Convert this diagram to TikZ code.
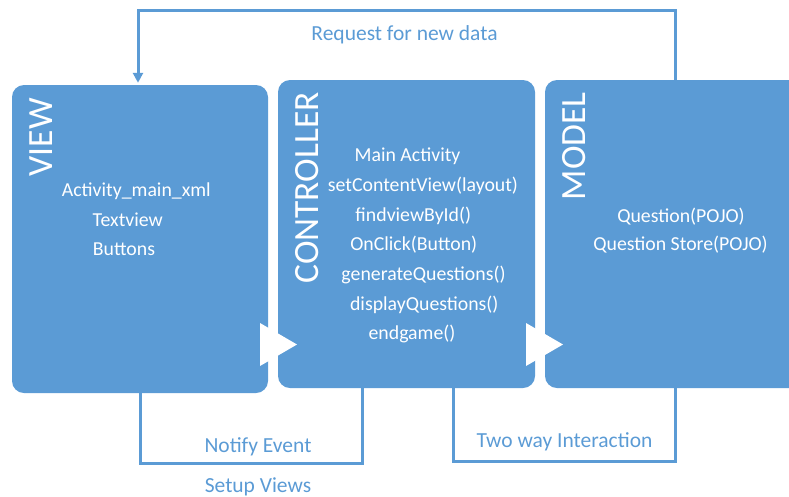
\documentclass[tikz,border=0pt]{standalone}
\usepackage{fontspec}
\setmainfont{Carlito}
\usetikzlibrary{arrows.meta}
\definecolor{mvcblue}{HTML}{5B9BD5}
\begin{document}
\begin{tikzpicture}[x=1pt,y=-1pt,
  panel/.style={fill=mvcblue, rounded corners=12pt, inner sep=0pt, minimum height=308pt},
  heading/.style={text=white, inner sep=0pt, rotate=90, anchor=base east,
    font=\fontsize{35.5}{40}\selectfont},
  item/.style={text=white, inner sep=0pt, anchor=base, font=\fontsize{19.8}{24}\selectfont},
  link/.style={draw=mvcblue, line width=3pt},
  lbl/.style={text=mvcblue, inner sep=0pt, anchor=base, font=\fontsize{21.5}{26}\selectfont},
  flowtip/.style={fill=white}]
\useasboundingbox (0,0) rectangle (789,496);
\clip (0,0) rectangle (789,496);

% the three MVC panels
\node[panel, minimum width=256pt] (view)  at (140,239) {};
\node[panel, minimum width=257pt] (ctrl)  at (406.5,234) {};
\node[panel, minimum width=260pt] (model) at (675,234) {};

% panel headings
\node[heading] (viewT)  at (52,98)  {VIEW};
\node[heading] (ctrlT)  at (318,92) {CONTROLLER};
\node[heading] (modelT) at (585,92) {MODEL};

% view contents
\node[item] (v1) at (136.3,196) {Activity\_main\_xml};
\node[item] (v2) at (127.8,226) {Textview};
\node[item] (v3) at (124,255)   {Buttons};

% controller contents
\node[item] (c1) at (407.5,161)   {Main Activity};
\node[item] (c2) at (423,191.5)   {setContentView(layout)};
\node[item] (c3) at (413.3,221.5) {findviewById()};
\node[item] (c4) at (413.8,250.5) {OnClick(Button)};
\node[item] (c5) at (423.5,280)   {generateQuestions()};
\node[item] (c6) at (424.3,310)   {displayQuestions()};
\node[item] (c7) at (412,339.5)   {endgame()};

% model contents
\node[item] (m1) at (681,222)   {Question(POJO)};
\node[item] (m2) at (680.5,250) {Question Store(POJO)};

% flow chevrons between panels
\fill[flowtip] (260,323) -- (297,344.5) -- (260,366) -- cycle;
\fill[flowtip] (526,323) -- (563,344.5) -- (526,366) -- cycle;

% connectors
\draw[link, -{Triangle[width=10pt,length=10pt]}]
  (model.north) -- ++(0,-69) -| ([xshift=-2pt,yshift=2pt]view.north);
\draw[link] (view.south) -- ++(0,70) -| ([xshift=-44.5pt]ctrl.south);
\draw[link] ([xshift=46.5pt]ctrl.south) -- ++(0,73) -| (model.south);

% connector labels
\node[lbl] (req)    at (404.5,40) {Request for new data};
\node[lbl] (notify) at (258,452)  {Notify Event};
\node[lbl] (setup)  at (258,492)  {Setup Views};
\node[lbl] (twoway) at (564.5,447) {Two way Interaction};
\end{tikzpicture}
\end{document}
